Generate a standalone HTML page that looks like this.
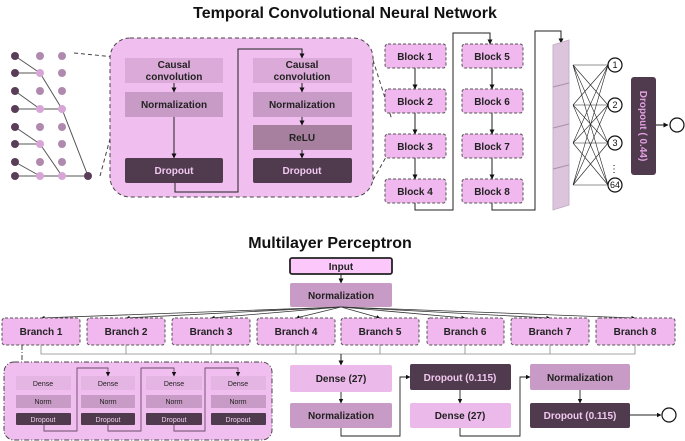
<!DOCTYPE html>
<html><head><meta charset="utf-8"><style>
body{margin:0;background:#fff}
svg{display:block;font-family:"Liberation Sans",sans-serif;font-weight:bold}
</style></head><body>
<svg width="685" height="441" viewBox="0 0 685 441" xmlns="http://www.w3.org/2000/svg">
<defs>
<marker id="a" viewBox="0 0 10 10" refX="9" refY="5" markerWidth="5" markerHeight="5" orient="auto"><path d="M0,0L10,5L0,10z" fill="#111"/></marker>
</defs>
<text x="345" y="18" font-size="16" text-anchor="middle" fill="#111">Temporal Convolutional Neural Network</text>
<!-- dot grid -->
<g stroke="#555" stroke-width="1" fill="none">
<path d="M15,56L40,73M15,73L40,73M15,91L40,109M15,109L40,109M15,127L40,144M15,144L40,144M15,162L40,176M15,176L40,176"/>
<path d="M40,73L62,109M40,109L62,109M40,144L62,176M40,176L62,176M62,109L88,176M62,176L88,176"/>
</g>
<g fill="#5a3e58">
<circle cx="15" cy="56" r="4"/><circle cx="15" cy="73" r="4"/><circle cx="15" cy="91" r="4"/><circle cx="15" cy="109" r="4"/><circle cx="15" cy="127" r="4"/><circle cx="15" cy="144" r="4"/><circle cx="15" cy="162" r="4"/><circle cx="15" cy="176" r="4"/><circle cx="88" cy="176" r="4"/>
</g>
<g fill="#b08aae"><circle cx="40" cy="56" r="4"/><circle cx="40" cy="91" r="4"/><circle cx="40" cy="127" r="4"/><circle cx="40" cy="162" r="4"/>
<circle cx="62" cy="56" r="4"/><circle cx="62" cy="73" r="4"/><circle cx="62" cy="91" r="4"/><circle cx="62" cy="127" r="4"/><circle cx="62" cy="144" r="4"/><circle cx="62" cy="162" r="4"/></g>
<g fill="#d7a6d6"><circle cx="40" cy="73" r="4"/><circle cx="40" cy="109" r="4"/><circle cx="40" cy="144" r="4"/><circle cx="40" cy="176" r="4"/><circle cx="62" cy="109" r="4"/><circle cx="62" cy="176" r="4"/></g>
<g stroke="#444" stroke-dasharray="4,3" fill="none"><path d="M74,53L125,58M100,176L125,83"/><path d="M373,60L392,120M373,180L390,150"/></g>
<!-- big panel -->
<rect x="110" y="38" width="263" height="159" rx="20" fill="#f0bff0" stroke="#444" stroke-dasharray="4,3"/>
<g font-size="10" text-anchor="middle" fill="#222">
<rect x="125" y="58" width="98" height="25" fill="#dcaad9"/><text x="174" y="68">Causal</text><text x="174" y="80">convolution</text>
<rect x="125" y="92" width="98" height="25" fill="#c89bc6"/><text x="174" y="108">Normalization</text>
<rect x="125" y="158" width="98" height="25" rx="2" fill="#503a4d"/><text x="174" y="174" fill="#f0c8f0">Dropout</text>
<rect x="253" y="58" width="99" height="25" fill="#dcaad9"/><text x="302" y="68">Causal</text><text x="302" y="80">convolution</text>
<rect x="253" y="92" width="99" height="25" fill="#c89bc6"/><text x="302" y="108">Normalization</text>
<rect x="253" y="125" width="99" height="25" fill="#a7809f"/><text x="302" y="141">ReLU</text>
<rect x="253" y="158" width="99" height="25" rx="2" fill="#503a4d"/><text x="302" y="174" fill="#f0c8f0">Dropout</text>
</g>
<g stroke="#222" fill="none" stroke-width="1" marker-end="url(#a)">
<path d="M174,83V92"/><path d="M174,117V158"/><path d="M302,83V92"/><path d="M302,117V125"/><path d="M302,150V158"/>
<path d="M175,183V192H238V49H302V58"/>
</g>
<!-- blocks -->
<g font-size="10" text-anchor="middle" fill="#222">
<g fill="#f0b8ee" stroke="#555" stroke-dasharray="3,2">
<rect x="385" y="44" width="61" height="24" rx="3"/><rect x="385" y="89" width="61" height="24" rx="3"/><rect x="385" y="134" width="61" height="24" rx="3"/><rect x="385" y="179" width="61" height="24" rx="3"/>
<rect x="462" y="44" width="61" height="24" rx="3"/><rect x="462" y="89" width="61" height="24" rx="3"/><rect x="462" y="134" width="61" height="24" rx="3"/><rect x="462" y="179" width="61" height="24" rx="3"/>
</g>
<text x="415" y="60">Block 1</text><text x="415" y="105">Block 2</text><text x="415" y="150">Block 3</text><text x="415" y="195">Block 4</text>
<text x="492" y="60">Block 5</text><text x="492" y="105">Block 6</text><text x="492" y="150">Block 7</text><text x="492" y="195">Block 8</text>
</g>
<g stroke="#222" fill="none" marker-end="url(#a)">
<path d="M415,68V89"/><path d="M415,113V134"/><path d="M415,158V179"/>
<path d="M492,68V89"/><path d="M492,113V134"/><path d="M492,158V179"/>
<path d="M415,203V210H453V33H490V44"/>
<path d="M492,203V210H535V31H561V43"/>
</g>
<!-- flatten bar -->
<path d="M553,45L569,40V205L553,210Z" fill="#dcc4dc" stroke="#c8b0c8"/>
<g stroke="#a890a8"><path d="M553,87L569,83M553,128L569,124M553,169L569,165"/></g>
<g stroke="#222" stroke-width="0.6">
<path d="M573,65L608,65M573,65L608,105M573,65L608,143M573,65L608,185M573,105L608,65M573,105L608,105M573,105L608,143M573,105L608,185M573,143L608,65M573,143L608,105M573,143L608,143M573,143L608,185M573,185L608,65M573,185L608,105M573,185L608,143M573,185L608,185"/>
</g>
<g fill="#fff" stroke="#111" stroke-width="1.2">
<circle cx="615" cy="65" r="7"/><circle cx="615" cy="105" r="7"/><circle cx="615" cy="143" r="7"/><circle cx="615" cy="185" r="7"/>
</g>
<g font-size="9" font-weight="normal" text-anchor="middle" fill="#111">
<text x="615" y="68">1</text><text x="615" y="108">2</text><text x="615" y="146">3</text><text x="615" y="188">64</text>
<text x="614" y="172" font-size="10">⋮</text></g>
<rect x="631" y="77" width="25" height="98" rx="3" fill="#503a4d"/>
<text transform="translate(640,126) rotate(90)" font-size="10" text-anchor="middle" fill="#e0a0e0">Dropout ( 0.44)</text>
<path d="M656,125H668" stroke="#111" marker-end="url(#a)"/>
<circle cx="677" cy="125" r="7" fill="#fff" stroke="#111" stroke-width="1.2"/>

<!-- MLP -->
<text x="330" y="248" font-size="16" text-anchor="middle" fill="#111">Multilayer Perceptron</text>
<rect x="290" y="258" width="102" height="16" rx="2" fill="#fcc8fc" stroke="#222" stroke-width="1.8"/>
<text x="341" y="270" font-size="10" text-anchor="middle" fill="#222">Input</text>
<path d="M341,274V283" stroke="#222" marker-end="url(#a)"/>
<rect x="290" y="283" width="102" height="24" rx="2" fill="#c89bc6"/>
<text x="341" y="299" font-size="10" text-anchor="middle" fill="#222">Normalization</text>
<g stroke="#333" stroke-width="0.8" fill="none" marker-end="url(#a)">
<path d="M341,307L41,318"/><path d="M341,307L126,318"/><path d="M341,307L211,318"/><path d="M341,307L296,318"/><path d="M341,307L380,318"/><path d="M341,307L465,318"/><path d="M341,307L550,318"/><path d="M341,307L635,318"/>
</g>
<g fill="#f0b8ee" stroke="#555" stroke-dasharray="3,2">
<rect x="2" y="318" width="78" height="27" rx="3"/><rect x="87" y="318" width="78" height="27" rx="3"/><rect x="172" y="318" width="78" height="27" rx="3"/><rect x="257" y="318" width="78" height="27" rx="3"/><rect x="341" y="318" width="78" height="27" rx="3"/><rect x="427" y="318" width="77" height="27" rx="3"/><rect x="511" y="318" width="78" height="27" rx="3"/><rect x="596" y="318" width="79" height="27" rx="3"/>
</g>
<g font-size="10" text-anchor="middle" fill="#222">
<text x="41" y="335">Branch 1</text><text x="126" y="335">Branch 2</text><text x="211" y="335">Branch 3</text><text x="296" y="335">Branch 4</text><text x="380" y="335">Branch 5</text><text x="465" y="335">Branch 6</text><text x="550" y="335">Branch 7</text><text x="635" y="335">Branch 8</text>
</g>
<path d="M41,345V354H635V345M126,345V354M211,345V354M296,345V354M380,345V354M465,345V354M550,345V354" stroke="#888" fill="none" stroke-width="0.8"/>
<path d="M341,354V365" stroke="#222" marker-end="url(#a)"/>
<path d="M22,345V362" stroke="#444" stroke-dasharray="5,2,1,2"/>
<rect x="4" y="362" width="268" height="78" rx="10" fill="#f0bff0" stroke="#444" stroke-dasharray="5,2,1,2"/>
<g font-size="7" text-anchor="middle" fill="#222" font-weight="normal">
<rect x="16" y="376" width="55" height="14" fill="#e4b4e2"/><rect x="81" y="376" width="54" height="14" fill="#e4b4e2"/><rect x="146" y="376" width="56" height="14" fill="#e4b4e2"/><rect x="211" y="376" width="55" height="14" fill="#e4b4e2"/>
<rect x="16" y="395" width="55" height="13" fill="#c89bc6"/><rect x="81" y="395" width="54" height="13" fill="#c89bc6"/><rect x="146" y="395" width="56" height="13" fill="#c89bc6"/><rect x="211" y="395" width="55" height="13" fill="#c89bc6"/>
<rect x="16" y="413" width="55" height="12" rx="1" fill="#503a4d"/><rect x="81" y="413" width="54" height="12" rx="1" fill="#503a4d"/><rect x="146" y="413" width="56" height="12" rx="1" fill="#503a4d"/><rect x="211" y="413" width="55" height="12" rx="1" fill="#503a4d"/>
<text x="43" y="386">Dense</text><text x="108" y="386">Dense</text><text x="174" y="386">Dense</text><text x="238" y="386">Dense</text>
<text x="43" y="404">Norm</text><text x="108" y="404">Norm</text><text x="174" y="404">Norm</text><text x="238" y="404">Norm</text>
<g fill="#f0d0f0"><text x="43" y="422">Dropout</text><text x="108" y="422">Dropout</text><text x="174" y="422">Dropout</text><text x="238" y="422">Dropout</text></g>
</g>
<g stroke="#6a4a66" fill="none" stroke-width="0.9" marker-end="url(#a)">
<path d="M44,425V431H77V368H108V376"/><path d="M108,425V431H141V368H174V376"/><path d="M174,425V431H205V368H238V376"/>
</g>
<g font-size="10" text-anchor="middle" fill="#222">
<rect x="290" y="365" width="102" height="27" rx="2" fill="#ecbaea"/><text x="341" y="382">Dense (27)</text>
<rect x="290" y="403" width="102" height="25" rx="2" fill="#c89bc6"/><text x="341" y="419">Normalization</text>
<rect x="410" y="364" width="101" height="26" rx="2" fill="#503a4d"/><text x="460" y="381" fill="#f0c8f0">Dropout (0.115)</text>
<rect x="410" y="403" width="101" height="25" rx="2" fill="#ecbaea"/><text x="460" y="419">Dense (27)</text>
<rect x="530" y="364" width="100" height="26" rx="2" fill="#c89bc6"/><text x="580" y="381">Normalization</text>
<rect x="530" y="403" width="100" height="25" rx="2" fill="#503a4d"/><text x="580" y="419" fill="#f0c8f0">Dropout (0.115)</text>
</g>
<g stroke="#222" fill="none" stroke-width="0.9" marker-end="url(#a)">
<path d="M341,392V403"/><path d="M460,390V403"/><path d="M580,390V403"/>
<path d="M341,428V436H400V377H410"/><path d="M460,428V436H520V377H530"/>
<path d="M630,415H661"/>
</g>
<circle cx="669" cy="415" r="7" fill="#fff" stroke="#111" stroke-width="1.2"/>
</svg>
</body></html>
